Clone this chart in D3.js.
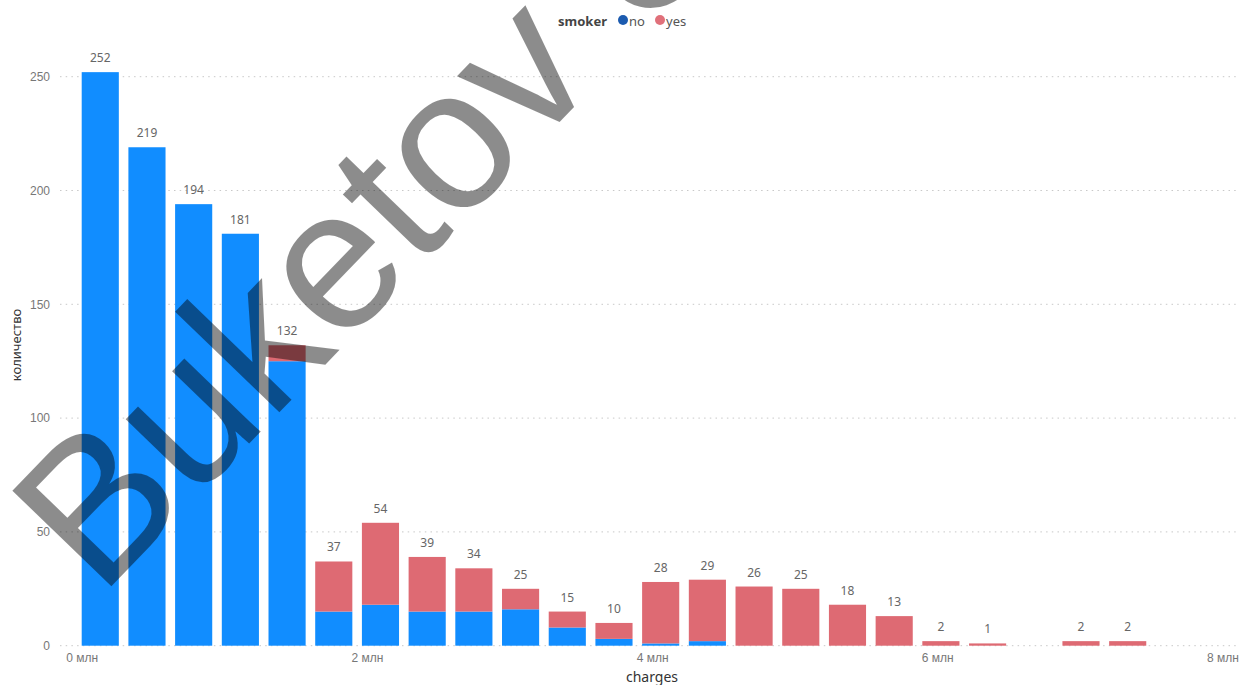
<!DOCTYPE html>
<html>
<head>
<meta charset="utf-8">
<script src="https://cdn.jsdelivr.net/npm/d3@7"></script>
<style>
  html, body { margin: 0; padding: 0; background: #fff; }
  svg { display: block; font-family: "Segoe UI", "Noto Sans", "Open Sans", sans-serif; }
</style>
</head>
<body>
<svg id="chart" width="1239" height="685"></svg>
<script>
// ---- data ----
const binStart = [0, 0.3275, 0.655, 0.9825, 1.31, 1.6375, 1.965, 2.2925, 2.62, 2.9475, 3.275, 3.6025,
  3.93, 4.2575, 4.585, 4.9125, 5.24, 5.5675, 5.895, 6.2225, 6.55, 6.8775, 7.205];
const noCounts  = [252, 219, 194, 181, 125, 15, 18, 15, 15, 16, 8, 3, 1, 2, 0, 0, 0, 0, 0, 0, 0, 0, 0];
const yesCounts = [0, 0, 0, 0, 7, 22, 36, 24, 19, 9, 7, 7, 27, 27, 26, 25, 18, 13, 2, 1, 0, 2, 2];
const xTicks = [0, 2, 4, 6, 8];
const xTickLabels = ["0 млн", "2 млн", "4 млн", "6 млн", "8 млн"];
const yTicks = [0, 50, 100, 150, 200, 250];
const seriesNames = ["no", "yes"];
const seriesColors = ["#118DFF", "#DE6A73"];
const legendColors = ["#1C5BAF", "#E0707A"];

// ---- layout ----
const svg = d3.select("#chart");
const x = d3.scaleLinear().domain([0, 8]).range([81.7, 1222.5]);
const y = d3.scaleLinear().domain([0, 250]).range([645.7, 76.7]);
const barW = (x(binStart[1]) - x(binStart[0])) * 0.795;

// gridlines
svg.append("g").selectAll("line").data(yTicks).join("line")
  .attr("x1", 60).attr("x2", 1236)
  .attr("y1", d => y(d)).attr("y2", d => y(d))
  .attr("stroke", "#C8C8C8").attr("stroke-width", 1)
  .attr("stroke-dasharray", "1.5,4.2");

// y axis
const yAxis = d3.axisLeft(y).tickValues(yTicks).tickSize(0).tickPadding(0);
const gy = svg.append("g").attr("transform", "translate(50,0)").call(yAxis);
gy.select(".domain").remove();
gy.selectAll("text").attr("font-size", 12).attr("fill", "#777").attr("font-family", null);

// x axis
const xAxis = d3.axisBottom(x).tickValues(xTicks).tickFormat((d, i) => xTickLabels[i]).tickSize(0).tickPadding(0);
const gx = svg.append("g").attr("transform", "translate(0,653)").call(xAxis);
gx.select(".domain").remove();
gx.selectAll("text").attr("font-size", 12).attr("fill", "#777").attr("font-family", null);

// stacked bars
const rows = binStart.map((s, i) => ({ s, no: noCounts[i], yes: yesCounts[i] }));
const stack = d3.stack().keys(seriesNames)(rows);
svg.append("g").selectAll("g").data(stack).join("g")
  .attr("fill", (d, i) => seriesColors[i])
  .selectAll("rect").data(d => d.filter(p => p[1] > p[0])).join("rect")
  .attr("x", d => x(d.data.s))
  .attr("width", barW)
  .attr("y", d => y(d[1]))
  .attr("height", d => y(d[0]) - y(d[1]));

// totals
svg.append("g").selectAll("text").data(rows.filter(r => r.no + r.yes > 0)).join("text")
  .attr("x", d => x(d.s) + barW / 2)
  .attr("y", d => y(d.no + d.yes) - 10)
  .attr("text-anchor", "middle")
  .attr("font-size", 12).attr("fill", "#666")
  .text(d => d.no + d.yes);

// axis titles
svg.append("text").attr("transform", "translate(21,345) rotate(-90)")
  .attr("text-anchor", "middle").attr("font-size", 13).attr("fill", "#333").text("количество");
svg.append("text").attr("x", 652).attr("y", 682)
  .attr("text-anchor", "middle").attr("font-size", 14).attr("fill", "#333").text("charges");

// legend
const lg = svg.append("g");
lg.append("text").attr("x", 558).attr("y", 26).attr("font-size", 13).attr("font-weight", "bold")
  .attr("fill", "#444").text("smoker");
const items = [{ n: seriesNames[0], cx: 623 }, { n: seriesNames[1], cx: 660 }];
items.forEach((it, i) => {
  lg.append("circle").attr("cx", it.cx).attr("cy", 20).attr("r", 5).attr("fill", legendColors[i]);
  lg.append("text").attr("x", it.cx + 6).attr("y", 26).attr("font-size", 13).attr("fill", "#555").text(it.n);
});

// watermark
svg.append("text")
  .attr("transform", "translate(100,598) rotate(-46)")
  .attr("font-family", "'Liberation Sans', Arial, sans-serif")
  .attr("font-size", 200)
  .attr("fill", "#000").attr("fill-opacity", 0.45)
  .text("Buketov University");
</script>
</body>
</html>
